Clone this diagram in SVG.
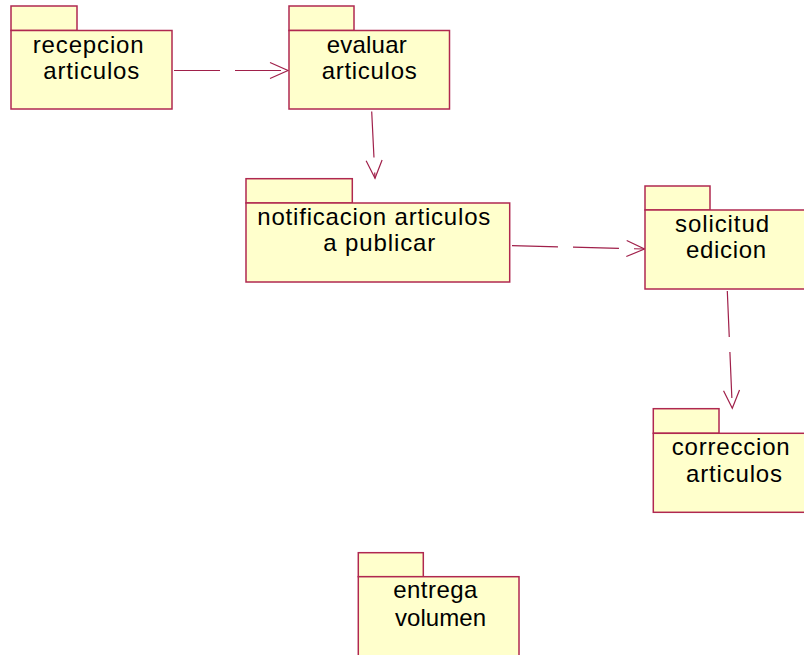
<svg xmlns="http://www.w3.org/2000/svg" width="804" height="655" viewBox="0 0 804 655">
  <style>
    .pk { fill: #FFFFCC; stroke: #B02850; stroke-width: 1.5; }
    .lbl { font-family: "Liberation Sans", Arial, sans-serif; font-size: 24px; fill: #000000; }
    .dep { fill: none; stroke: #A0204A; stroke-width: 1.2; stroke-dasharray: 46 15; marker-end: url(#open); }
  </style>
  <defs>
    <marker id="open" markerUnits="userSpaceOnUse" viewBox="-20 -10 22 20" refX="0" refY="0" markerWidth="22" markerHeight="20" orient="auto" overflow="visible">
      <path d="M-18,-8 L0,0 L-18,8" fill="none" stroke="#A0204A" stroke-width="1.2" stroke-dasharray="none"/>
    </marker>
  </defs>
  <rect width="804" height="655" fill="#FFFFFF"/>

  <g id="connectors">
    <path class="dep" d="M174,70.5 L288,70.5"/>
    <path class="dep" d="M371.7,111.5 L375,178.3"/>
    <path class="dep" d="M512,245.7 L644.5,249"/>
    <path class="dep" d="M727.3,291 L732.3,408.3"/>
  </g>

  <g id="recepcion-articulos">
    <rect class="pk" x="11" y="6" width="66" height="24.5"/>
    <rect class="pk" x="11" y="30.5" width="161" height="78.5"/>
    <text class="lbl" x="32.7" y="53" textLength="111" lengthAdjust="spacing">recepcion</text>
    <text class="lbl" x="43.3" y="79" textLength="96" lengthAdjust="spacing">articulos</text>
  </g>

  <g id="evaluar-articulos">
    <rect class="pk" x="289" y="6" width="65" height="24.5"/>
    <rect class="pk" x="289" y="30.5" width="160.5" height="78.5"/>
    <text class="lbl" x="326.7" y="53" textLength="80" lengthAdjust="spacing">evaluar</text>
    <text class="lbl" x="321.7" y="79" textLength="95" lengthAdjust="spacing">articulos</text>
  </g>

  <g id="notificacion-articulos">
    <rect class="pk" x="246" y="178.7" width="106.3" height="24.3"/>
    <rect class="pk" x="246" y="203" width="263.7" height="79"/>
    <text class="lbl" x="257.3" y="225" textLength="233" lengthAdjust="spacing">notificacion articulos</text>
    <text class="lbl" x="323.3" y="251" textLength="112" lengthAdjust="spacing">a publicar</text>
  </g>

  <g id="solicitud-edicion">
    <rect class="pk" x="645" y="186" width="65" height="24"/>
    <rect class="pk" x="645" y="210" width="170" height="79"/>
    <text class="lbl" x="675" y="232" textLength="94" lengthAdjust="spacing">solicitud</text>
    <text class="lbl" x="686" y="258" textLength="80" lengthAdjust="spacing">edicion</text>
  </g>

  <g id="correccion-articulos">
    <rect class="pk" x="653.3" y="408.7" width="65.7" height="24.6"/>
    <rect class="pk" x="653.3" y="433.3" width="160" height="79"/>
    <text class="lbl" x="671.7" y="455" textLength="118" lengthAdjust="spacing">correccion</text>
    <text class="lbl" x="686" y="481.7" textLength="96" lengthAdjust="spacing">articulos</text>
  </g>

  <g id="entrega-volumen">
    <rect class="pk" x="358.3" y="552.7" width="65" height="24"/>
    <rect class="pk" x="358.3" y="576.7" width="160.7" height="110"/>
    <text class="lbl" x="393.3" y="598" textLength="84" lengthAdjust="spacing">entrega</text>
    <text class="lbl" x="395" y="626" textLength="91" lengthAdjust="spacing">volumen</text>
  </g>
</svg>
